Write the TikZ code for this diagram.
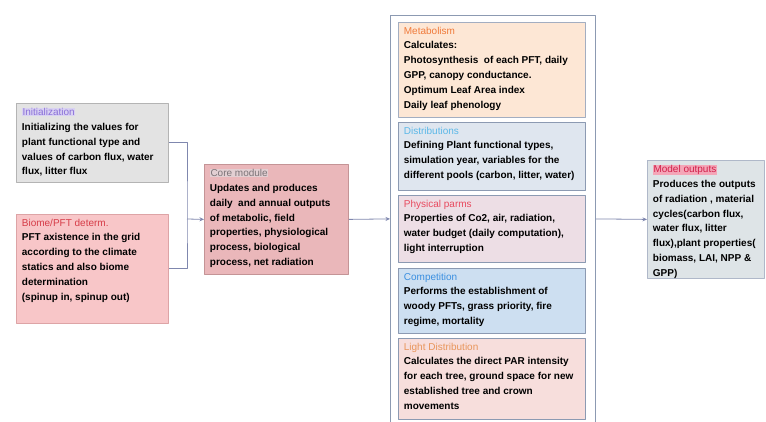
\documentclass[tikz,border=0pt]{standalone}
\usepackage{fontspec}
\setmainfont{Liberation Sans}
\usetikzlibrary{arrows.meta}

\definecolor{initfill}{HTML}{E3E3E3}
\definecolor{initline}{HTML}{B4B4B4}
\definecolor{inittitle}{HTML}{8A70D8}
\definecolor{initmark}{HTML}{D9D2F2}
\definecolor{biomefill}{HTML}{F8C6C8}
\definecolor{biomeline}{HTML}{DDA4A6}
\definecolor{biometitle}{HTML}{D63C48}
\definecolor{corefill}{HTML}{EAB7BA}
\definecolor{coreline}{HTML}{C49496}
\definecolor{coretitle}{HTML}{7C7478}
\definecolor{coremark}{HTML}{E2CFD2}
\definecolor{boxline}{HTML}{8C9AB2}
\definecolor{metfill}{HTML}{FDE7D5}
\definecolor{mettitle}{HTML}{F07A3A}
\definecolor{disfill}{HTML}{DFE6EF}
\definecolor{distitle}{HTML}{5BB8E8}
\definecolor{phyfill}{HTML}{EDDEE5}
\definecolor{phytitle}{HTML}{E84A5F}
\definecolor{comfill}{HTML}{CDDFF1}
\definecolor{comtitle}{HTML}{3A8FE0}
\definecolor{ligfill}{HTML}{F7DEDC}
\definecolor{ligtitle}{HTML}{E8955A}
\definecolor{outfill}{HTML}{DEE4E7}
\definecolor{outtitle}{HTML}{D0204A}
\definecolor{outmark}{HTML}{F4A6B8}
\definecolor{linkc}{HTML}{7F87AE}

% body text of a box: width, height, text
\newcommand{\cardtext}[3]{\parbox[c][#2][t]{#1}{\raggedright #3}}
\newcommand{\ttl}[2]{{\mdseries\color{#1}#2}\\}
\newcommand{\hlttl}[3]{{\setlength{\fboxsep}{0.6pt}\colorbox{#1}{\mdseries\color{#2}#3}}\\}

\begin{document}
\begin{tikzpicture}[x=1pt, y=-1pt, line join=round,
    font=\fontsize{10}{14.8}\selectfont\bfseries,
    blk/.style={draw, anchor=north west, inner xsep=5.5pt, inner ysep=4.5pt, line width=0.8pt},
    link/.style={draw=linkc, line width=0.8pt},
    >={Stealth[length=4.5pt,width=4pt]}]
	\useasboundingbox (0,0) rectangle (766,422);
	% left column
	\node[blk, fill=initfill, draw=initline] (init) at (16,103)
		{\cardtext{141pt}{70pt}{\hlttl{initmark}{inittitle}{Initialization}Initializing the values for\\ plant functional type and\\ values of carbon flux, water\\ flux, litter flux}};
	\node[blk, fill=biomefill, draw=biomeline] (biome) at (16,214)
		{\cardtext{141pt}{100pt}{\ttl{biometitle}{Biome/PFT determ.}PFT axistence in the grid\\ according to the climate\\ statics and also biome\\ determination\\ (spinup in, spinup out)}};
	\node[blk, fill=corefill, draw=coreline] (core) at (204,164)
		{\cardtext{133pt}{101pt}{\hlttl{coremark}{coretitle}{Core module}Updates and produces\\ daily\ \ and annual outputs\\ of metabolic, field\\ properties, physiological\\ process, biological\\ process, net radiation}};
	% sub-models
	\node[draw=boxline, line width=0.8pt, fill=white, anchor=north west, inner sep=0pt,
		minimum width=205, minimum height=407] (models) at (390,15) {};
	\node[blk, fill=metfill, draw=boxline!80] (met) at (398,22)
		{\cardtext{176pt}{86pt}{\ttl{mettitle}{Metabolism}Calculates:\\ Photosynthesis\ \ of each PFT, daily\\ GPP, canopy conductance.\\ Optimum Leaf Area index\\ Daily leaf phenology}};
	\node[blk, fill=disfill, draw=boxline] (dis) at (398,122)
		{\cardtext{176pt}{59pt}{\ttl{distitle}{Distributions}Defining Plant functional types,\\ simulation year, variables for the\\ different pools (carbon, litter, water)}};
	\node[blk, fill=phyfill, draw=boxline] (phy) at (398,195)
		{\cardtext{176pt}{58pt}{\ttl{phytitle}{Physical parms}Properties of Co2, air, radiation,\\ water budget (daily computation),\\ light interruption}};
	\node[blk, fill=comfill, draw=boxline] (com) at (398,268)
		{\cardtext{176pt}{56pt}{\ttl{comtitle}{Competition}Performs the establishment of\\ woody PFTs, grass priority, fire\\ regime, mortality}};
	\node[blk, fill=ligfill, draw=boxline] (lig) at (398,338)
		{\cardtext{176pt}{72pt}{\ttl{ligtitle}{Light Distribution}Calculates the direct PAR intensity\\ for each tree, ground space for new\\ established tree and crown\\ movements}};
	% outputs
	\node[blk, fill=outfill, draw=boxline!70] (out) at (647,160)
		{\cardtext{106pt}{109pt}{\hlttl{outmark}{outtitle}{Model outputs}Produces the outputs\\ of radiation , material\\ cycles(carbon flux,\\ water flux, litter\\ flux),plant properties(\\ biomass, LAI, NPP \&\\ GPP)}};
	% connectors
	\coordinate (bus) at (187,219);
	\draw[link] (init.east) -| (bus) |- (biome.east);
	\draw[link,->] (bus) -- (core.west);
	\draw[link,->] (core.east) -- (models.west);
	\draw[link,->] (models.east) -- (out.west);
\end{tikzpicture}
\end{document}
